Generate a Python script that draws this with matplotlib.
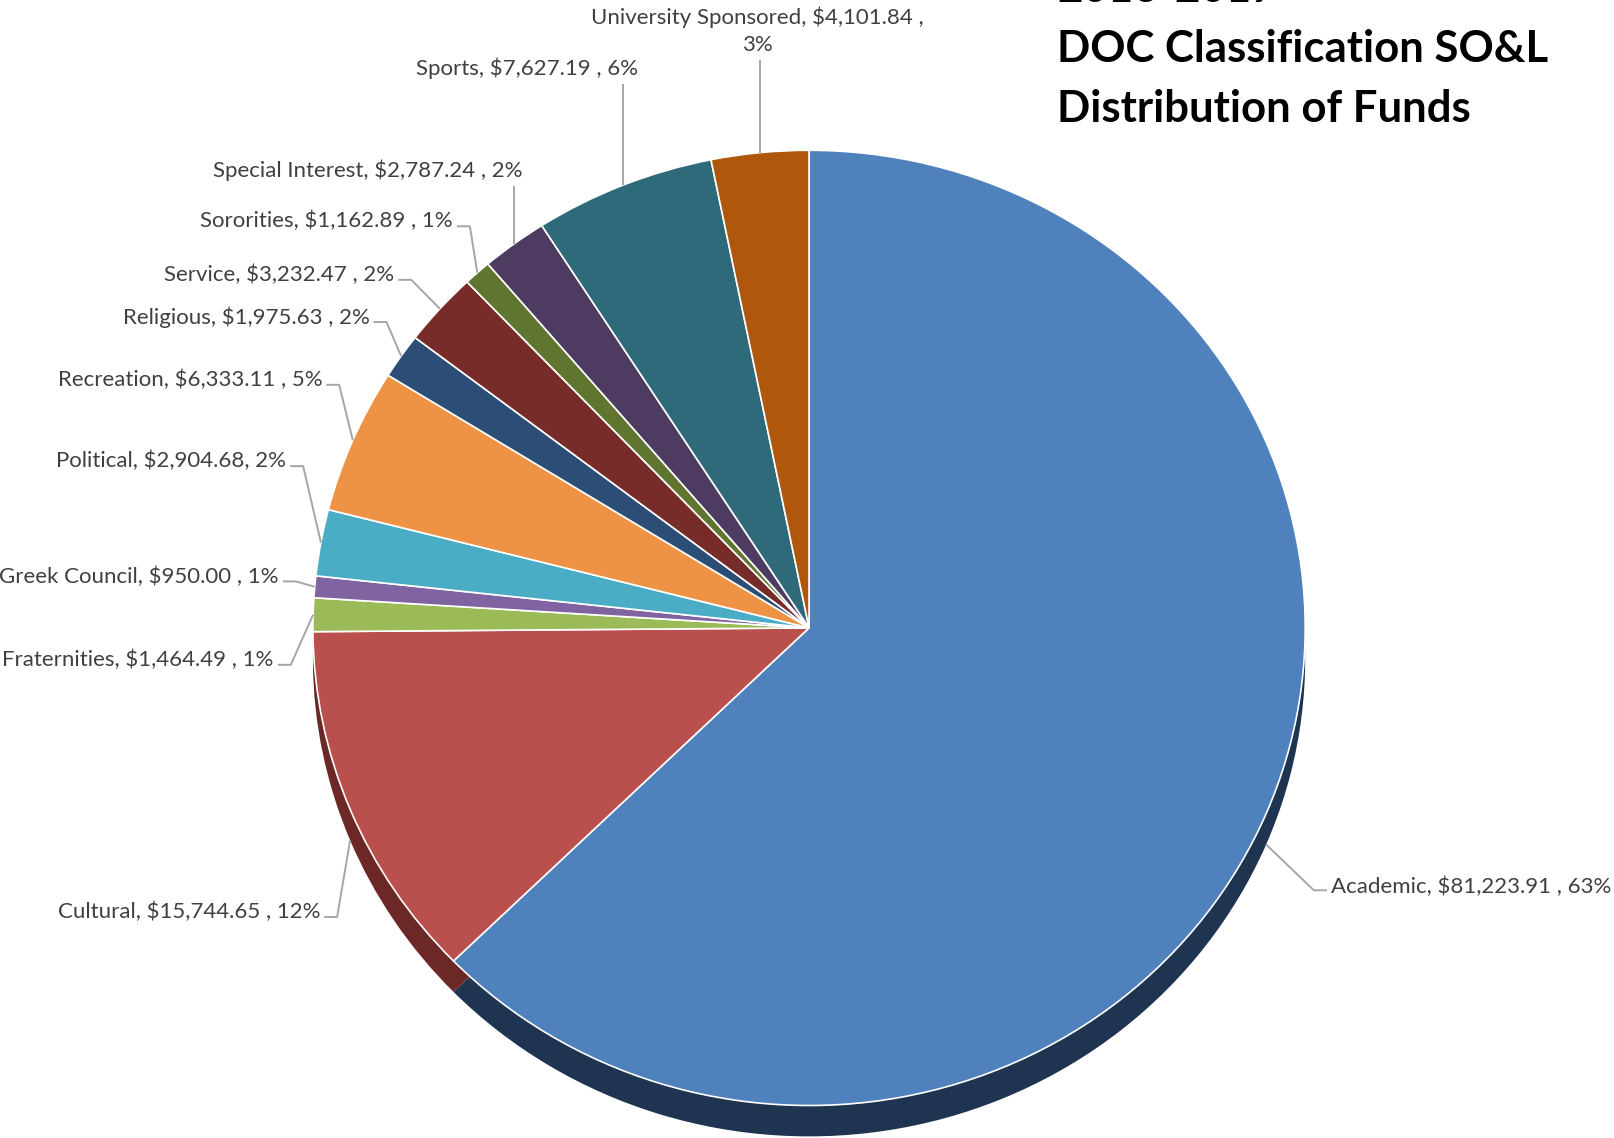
import matplotlib
matplotlib.use("Agg")
import matplotlib.pyplot as plt
import numpy as np
from matplotlib.colors import to_rgb

# ---------------- data ----------------
categories = ["Academic", "Cultural", "Fraternities", "Greek Council", "Political",
              "Recreation", "Religious", "Service", "Sororities", "Special Interest",
              "Sports", "University Sponsored"]
values = [81223.91, 15744.65, 1464.49, 950.00, 2904.68, 6333.11, 1975.63,
          3232.47, 1162.89, 2787.24, 7627.19, 4101.84]
label_texts = ["Academic, $81,223.91 , 63%", "Cultural, $15,744.65 , 12%",
               "Fraternities, $1,464.49 , 1%", "Greek Council, $950.00 , 1%",
               "Political, $2,904.68, 2%", "Recreation, $6,333.11 , 5%",
               "Religious, $1,975.63 , 2%", "Service, $3,232.47 , 2%",
               "Sororities, $1,162.89 , 1%", "Special Interest, $2,787.24 , 2%",
               "Sports, $7,627.19 , 6%", "University Sponsored, $4,101.84 ,\n3%"]
colors = ["#4F81BD", "#BA504D", "#9BBB59", "#8064A2", "#4BACC6", "#EE9346",
          "#2C4D75", "#772C2A", "#5F7530", "#4D3B62", "#2E6A7A", "#B0570E"]
side_colors = ["#1F3450", "#6B2826", "#4E5E2C", "#403251", "#265663", "#774B23",
               "#16273B", "#3C1615", "#303B18", "#271E31", "#17353D", "#582C07"]
title_lines = ["2016-2017", "DOC Classification SO&L", "Distribution of Funds"]

# ---------------- layout ----------------
W, H = 1614, 1138
S = 1614 / 1568.0
cx, cy = 786 * S, 610 * S          # pie centre (px)
rx, ry = 482 * S, 464 * S          # radii (px)
depth = 30 * S                     # 3-D thickness (px)

fig = plt.figure(figsize=(W / 100, H / 100), dpi=100)
ax0 = fig.add_axes([0, 0, 1, 1])
ax0.set_xlim(0, W)
ax0.set_ylim(H, 0)
ax0.axis("off")

d = depth / ry
axp = fig.add_axes([(cx - rx) / W, 1 - (cy + ry + depth) / H,
                    2 * rx / W, (2 * ry + depth) / H])
axp.set_zorder(1)
ax0.set_zorder(2)
ax0.patch.set_alpha(0)

axp.pie(values, colors=side_colors, startangle=90, counterclock=False,
        radius=1, center=(0, -d), wedgeprops=dict(linewidth=0))
wedges, _ = axp.pie(values, colors=colors, startangle=90, counterclock=False,
                    radius=1, center=(0, 0),
                    wedgeprops=dict(edgecolor="white", linewidth=1.2))
axp.set_aspect("auto")
axp.set_xlim(-1, 1)
axp.set_ylim(-1 - d, 1)
axp.axis("off")

# anchor points of the leader lines (mid-angle on the rim)
def anchor(w):
    th = np.deg2rad((w.theta1 + w.theta2) / 2)
    x, y = np.cos(th), np.sin(th)
    if y < -0.2:
        y -= d
    disp = axp.transData.transform((x, y))
    return ax0.transData.inverted().transform(disp)

# label positions: (x, y, mode) in reference px (scaled by S)
lab_pos = [
    (1293, 862, "left"),
    (311, 886, "elbow"),
    (266, 641, "elbow"),
    (271, 560, "elbow"),
    (278, 448, "elbow"),
    (313, 369, "elbow"),
    (359, 308, "elbow"),
    (383, 267, "elbow"),
    (440, 215, "elbow"),
    (508, 165, "vert"),
    (620, 66, "vert"),
    (736, 30, "vcenter"),
]

txt_kw = dict(family=["Lato", "DejaVu Sans"], fontsize=16, color="#404040")
line_kw = dict(color="#A6A6A6", lw=1.4, solid_capstyle="butt")

for w, txt, (lx, ly, mode) in zip(wedges, label_texts, lab_pos):
    lx, ly = lx * S, ly * S
    axx, ayy = anchor(w)
    if mode == "left":
        ax0.text(lx, ly, txt, ha="left", va="center", **txt_kw)
        ax0.plot([lx - 4, lx - 17, axx], [ly + 3, ly + 3, ayy], **line_kw)
    elif mode == "elbow":
        ax0.text(lx, ly, txt, ha="right", va="center", **txt_kw)
        ax0.plot([lx + 4, lx + 17, axx], [ly + 5, ly + 5, ayy], **line_kw)
    elif mode == "vert":
        ax0.text(lx, ly, txt, ha="right", va="center", **txt_kw)
        ax0.plot([axx, axx], [ly + 16 * S, ayy], **line_kw)
    else:
        ax0.text(lx, ly, txt, ha="center", va="center", linespacing=1.45,
                 **txt_kw)
        ax0.plot([axx, axx], [ly + 28 * S, ayy], **line_kw)

# title
for i, t in enumerate(title_lines):
    ax0.text(1057, 2 + 60 * i, t, ha="left", va="baseline",
             family=["Lato", "DejaVu Sans"], fontweight="bold",
             fontsize=31.5, color="black")

fig.savefig("out.png", dpi=100)
